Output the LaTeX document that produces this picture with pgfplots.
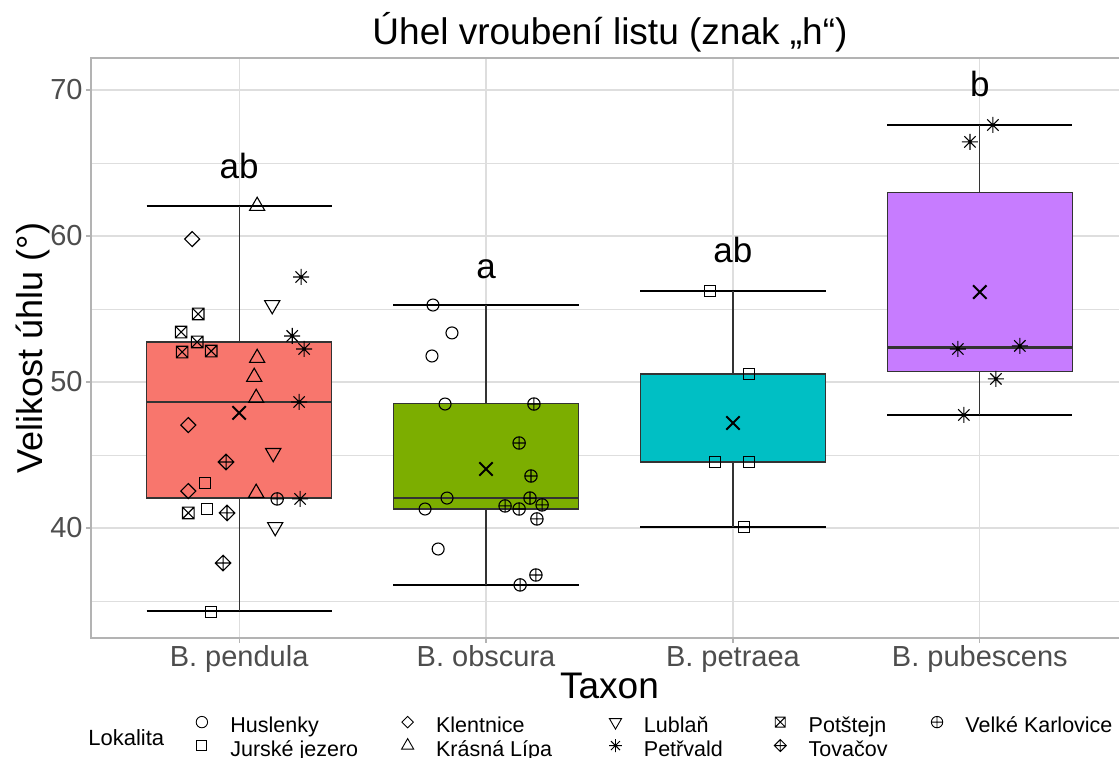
\documentclass[border=0pt]{standalone}
\usepackage{pgfplots}
\pgfplotsset{compat=1.18}
\usepackage{fontspec}
\setmainfont{Liberation Sans}
\definecolor{cpend}{HTML}{F8766D}
\definecolor{cobs}{HTML}{7CAE00}
\definecolor{cpet}{HTML}{00BFC4}
\definecolor{cpub}{HTML}{C77CFF}
\definecolor{gridc}{HTML}{DEDEDE}
\definecolor{borderc}{HTML}{B3B3B3}
\definecolor{ticklab}{HTML}{4D4D4D}
\definecolor{boxc}{HTML}{333333}
\pgfdeclareplotmark{rdiamond}{%
  \pgfpathmoveto{\pgfqpoint{0pt}{\pgfplotmarksize}}%
  \pgfpathlineto{\pgfqpoint{\pgfplotmarksize}{0pt}}%
  \pgfpathlineto{\pgfqpoint{0pt}{-\pgfplotmarksize}}%
  \pgfpathlineto{\pgfqpoint{-\pgfplotmarksize}{0pt}}%
  \pgfpathclose\pgfusepathqstroke}
\pgfdeclareplotmark{rdiamondplus}{%
  \pgfpathmoveto{\pgfqpoint{0pt}{\pgfplotmarksize}}%
  \pgfpathlineto{\pgfqpoint{\pgfplotmarksize}{0pt}}%
  \pgfpathlineto{\pgfqpoint{0pt}{-\pgfplotmarksize}}%
  \pgfpathlineto{\pgfqpoint{-\pgfplotmarksize}{0pt}}%
  \pgfpathclose
  \pgfpathmoveto{\pgfqpoint{0pt}{\pgfplotmarksize}}\pgfpathlineto{\pgfqpoint{0pt}{-\pgfplotmarksize}}%
  \pgfpathmoveto{\pgfqpoint{\pgfplotmarksize}{0pt}}\pgfpathlineto{\pgfqpoint{-\pgfplotmarksize}{0pt}}%
  \pgfusepathqstroke}
\pgfdeclareplotmark{squarex}{%
  \pgfpathrectangle{\pgfqpoint{-\pgfplotmarksize}{-\pgfplotmarksize}}{\pgfqpoint{2\pgfplotmarksize}{2\pgfplotmarksize}}%
  \pgfpathmoveto{\pgfqpoint{-\pgfplotmarksize}{-\pgfplotmarksize}}\pgfpathlineto{\pgfqpoint{\pgfplotmarksize}{\pgfplotmarksize}}%
  \pgfpathmoveto{\pgfqpoint{-\pgfplotmarksize}{\pgfplotmarksize}}\pgfpathlineto{\pgfqpoint{\pgfplotmarksize}{-\pgfplotmarksize}}%
  \pgfusepathqstroke}
\pgfdeclareplotmark{circleplus}{%
  \pgfpathcircle{\pgfpointorigin}{\pgfplotmarksize}%
  \pgfpathmoveto{\pgfqpoint{0pt}{\pgfplotmarksize}}\pgfpathlineto{\pgfqpoint{0pt}{-\pgfplotmarksize}}%
  \pgfpathmoveto{\pgfqpoint{\pgfplotmarksize}{0pt}}\pgfpathlineto{\pgfqpoint{-\pgfplotmarksize}{0pt}}%
  \pgfusepathqstroke}
\pgfdeclareplotmark{star8}{%
  \pgfpathmoveto{\pgfqpoint{0pt}{\pgfplotmarksize}}\pgfpathlineto{\pgfqpoint{0pt}{-\pgfplotmarksize}}%
  \pgfpathmoveto{\pgfqpoint{\pgfplotmarksize}{0pt}}\pgfpathlineto{\pgfqpoint{-\pgfplotmarksize}{0pt}}%
  \pgfpathmoveto{\pgfqpoint{0.707\pgfplotmarksize}{0.707\pgfplotmarksize}}\pgfpathlineto{\pgfqpoint{-0.707\pgfplotmarksize}{-0.707\pgfplotmarksize}}%
  \pgfpathmoveto{\pgfqpoint{0.707\pgfplotmarksize}{-0.707\pgfplotmarksize}}\pgfpathlineto{\pgfqpoint{-0.707\pgfplotmarksize}{0.707\pgfplotmarksize}}%
  \pgfusepathqstroke}
\pgfdeclareplotmark{bigx}{%
  \pgfpathmoveto{\pgfqpoint{-\pgfplotmarksize}{-\pgfplotmarksize}}\pgfpathlineto{\pgfqpoint{\pgfplotmarksize}{\pgfplotmarksize}}%
  \pgfpathmoveto{\pgfqpoint{-\pgfplotmarksize}{\pgfplotmarksize}}\pgfpathlineto{\pgfqpoint{\pgfplotmarksize}{-\pgfplotmarksize}}%
  \pgfusepathqstroke}
\begin{document}
\begin{tikzpicture}
\useasboundingbox (0,0) rectangle (559.5pt,379pt);
\begin{axis}[
  at={(45.5pt,60pt)}, anchor=south west,
  scale only axis, width=518.5pt, height=290pt,
  xmin=0.4, xmax=4.6, ymin=32.466, ymax=72.19,
  xtick={1,2,3,4},
  xticklabels={B. pendula, B. obscura, B. petraea, B. pubescens},
  ytick={40,50,60,70}, minor ytick={35,45,55,65},
  grid=both,
  major grid style={color=gridc, line width=0.55pt},
  minor grid style={color=gridc, line width=0.3pt},
  axis line style={color=borderc, line width=0.55pt},
  tick style={color=borderc, line width=0.55pt},
  tick align=outside, tick pos=left,
  major tick length=2.5pt, minor tick length=0pt,
  ticklabel style={font=\fontsize{14.5}{14.5}\selectfont, text=ticklab},
  yticklabel style={inner sep=0pt, xshift=-1.5pt},
  xticklabel style={anchor=base, inner sep=0pt, yshift=-12pt},
  /pgf/number format/assume math mode=true,
  clip=false,
  legend columns=5,
  legend cell align=left,
  legend image code/.code={\path (-4pt,0pt) (4pt,0pt); \draw[#1] plot coordinates {(0pt,3pt)};},
  legend style={draw=none, fill=none, inner sep=0pt,
    at={(axis description cs:0.0984,-0.1345)}, anchor=north west,
    font=\fontsize{10.75}{10.75}\selectfont,
    nodes={inner sep=0.5pt, text height=6.5pt, text depth=2pt},
    row sep=0.5pt,
    /tikz/every odd column/.append style={column sep=9.5pt},
    /tikz/column 2/.append style={column sep=20pt},
    /tikz/column 4/.append style={column sep=27pt},
    /tikz/column 6/.append style={column sep=24pt},
    /tikz/column 8/.append style={column sep=20pt}},
  ptsty/.style={only marks, black, line width=0.55pt, forget plot},
  cap/.style={forget plot, black, line width=0.6pt},
  whisk/.style={forget plot, boxc, line width=0.6pt},
  boxsty/.style={forget plot, draw=boxc, line width=0.6pt},
  med/.style={forget plot, boxc, line width=1.2pt},
]
% ---- B. pendula: lw 34.32, q1 42.05, med 48.63, q3 52.74, uw 62.05
\addplot[cap] coordinates {(0.625,34.32) (1.375,34.32)};
\addplot[cap] coordinates {(0.625,62.05) (1.375,62.05)};
\addplot[whisk] coordinates {(1,34.32) (1,62.05)};
\addplot[boxsty, fill=cpend] coordinates {(0.625,42.05) (1.375,42.05) (1.375,52.74) (0.625,52.74)} -- cycle;
\addplot[med] coordinates {(0.625,48.63) (1.375,48.63)};
% ---- B. obscura: lw 36.10, q1 41.30, med 42.05, q3 48.52, uw 55.27
\addplot[cap] coordinates {(1.625,36.10) (2.375,36.10)};
\addplot[cap] coordinates {(1.625,55.27) (2.375,55.27)};
\addplot[whisk] coordinates {(2,36.10) (2,55.27)};
\addplot[boxsty, fill=cobs] coordinates {(1.625,41.30) (2.375,41.30) (2.375,48.52) (1.625,48.52)} -- cycle;
\addplot[med] coordinates {(1.625,42.05) (2.375,42.05)};
% ---- B. petraea: lw 40.07, q1 44.52, med 44.52, q3 50.55, uw 56.23
\addplot[cap] coordinates {(2.625,40.07) (3.375,40.07)};
\addplot[cap] coordinates {(2.625,56.23) (3.375,56.23)};
\addplot[whisk] coordinates {(3,40.07) (3,56.23)};
\addplot[boxsty, fill=cpet] coordinates {(2.625,44.52) (3.375,44.52) (3.375,50.55) (2.625,50.55)} -- cycle;
\addplot[med] coordinates {(2.625,44.52) (3.375,44.52)};
% ---- B. pubescens: lw 47.74, q1 50.72, med 52.37, q3 62.95, uw 67.60
\addplot[cap] coordinates {(3.625,47.74) (4.375,47.74)};
\addplot[cap] coordinates {(3.625,67.60) (4.375,67.60)};
\addplot[whisk] coordinates {(4,47.74) (4,67.60)};
\addplot[boxsty, fill=cpub] coordinates {(3.625,50.72) (4.375,50.72) (4.375,62.95) (3.625,62.95)} -- cycle;
\addplot[med] coordinates {(3.625,52.37) (4.375,52.37)};
% Huslenky
\addplot[ptsty, mark=o, mark size=3pt] coordinates {
 (1.785,55.27) (1.862,53.36) (1.781,51.78) (1.834,48.49) (1.842,42.05) (1.753,41.30) (1.806,38.56)};
% Jurske jezero
\addplot[ptsty, mark=square, mark size=2.75pt] coordinates {
 (0.862,43.08) (0.870,41.30) (0.887,34.25)
 (2.907,56.23) (3.065,50.55) (2.927,44.52) (3.065,44.52) (3.045,40.07)};
% Klentnice
\addplot[ptsty, mark=rdiamond, mark size=3.75pt] coordinates {
 (0.810,59.79) (0.794,47.05) (0.794,42.53)};
% Krasna Lipa
\addplot[ptsty, mark=triangle, mark size=4.4pt] coordinates {
 (1.073,62.05) (1.073,51.64) (1.061,50.34) (1.069,48.90) (1.069,42.40)};
% Lublan
\addplot[ptsty, mark=triangle, mark size=4.4pt, mark options={rotate=180}] coordinates {
 (1.134,55.27) (1.138,45.14) (1.146,40.07)};
% Petrvald
\addplot[ptsty, mark=star8, mark size=4pt] coordinates {
 (1.251,57.19) (1.215,53.15) (1.263,52.26) (1.243,48.63) (1.247,41.99)
 (4.053,67.60) (3.960,66.44) (3.911,52.26) (4.162,52.47) (4.065,50.21) (3.935,47.74)};
% Potstejn
\addplot[ptsty, mark=squarex, mark size=2.9pt] coordinates {
 (0.834,54.66) (0.765,53.42) (0.830,52.74) (0.769,52.05) (0.887,52.12) (0.794,41.03)};
% Tovacov
\addplot[ptsty, mark=rdiamondplus, mark size=3.9pt] coordinates {
 (0.947,44.52) (0.951,41.03) (0.935,37.60)};
% Velke Karlovice
\addplot[ptsty, mark=circleplus, mark size=3.1pt] coordinates {
 (1.154,41.99)
 (2.194,48.49) (2.134,45.82) (2.182,43.56) (2.178,42.05) (2.077,41.51) (2.134,41.30) (2.227,41.58) (2.206,40.62) (2.202,36.78) (2.138,36.10)};
% means
\addplot[only marks, forget plot, black, mark=bigx, mark size=3.35pt, line width=1pt] coordinates {
 (1,47.88) (2,44.04) (3,47.19) (4,56.16)};
% letters
\node[anchor=base, font=\fontsize{17.5}{17.5}\selectfont] at (axis cs:1,63.97) {ab};
\node[anchor=base, font=\fontsize{17.5}{17.5}\selectfont] at (axis cs:2,57.12) {a};
\node[anchor=base, font=\fontsize{17.5}{17.5}\selectfont] at (axis cs:3,58.15) {ab};
\node[anchor=base, font=\fontsize{17.5}{17.5}\selectfont] at (axis cs:4,69.52) {b};
% legend
\addlegendimage{only marks, black, line width=0.45pt, mark=o, mark size=2.85pt}
\addlegendentry{Huslenky}
\addlegendimage{only marks, black, line width=0.45pt, mark=rdiamond, mark size=2.85pt}
\addlegendentry{Klentnice}
\addlegendimage{only marks, black, line width=0.45pt, mark=triangle, mark size=3.5pt, mark options={rotate=180}}
\addlegendentry{Lublaň}
\addlegendimage{only marks, black, line width=0.45pt, mark=squarex, mark size=2.5pt}
\addlegendentry{Potštejn}
\addlegendimage{only marks, black, line width=0.45pt, mark=circleplus, mark size=2.85pt}
\addlegendentry{Velké Karlovice}
\addlegendimage{only marks, black, line width=0.45pt, mark=square, mark size=2.5pt}
\addlegendentry{Jurské jezero}
\addlegendimage{only marks, black, line width=0.45pt, mark=triangle, mark size=3.5pt}
\addlegendentry{Krásná Lípa}
\addlegendimage{only marks, black, line width=0.45pt, mark=star8, mark size=3.2pt}
\addlegendentry{Petřvald}
\addlegendimage{only marks, black, line width=0.45pt, mark=rdiamondplus, mark size=3pt}
\addlegendentry{Tovačov}
\end{axis}
\node[anchor=base, font=\fontsize{18.5}{18.5}\selectfont] at (305pt,356.5pt) {Úhel vroubení listu (znak „h“)};
\node[rotate=90, anchor=base, font=\fontsize{18}{18}\selectfont] at (21pt,205pt) {Velikost úhlu (°)};
\node[anchor=base, font=\fontsize{18.5}{18.5}\selectfont] at (304.75pt,29.5pt) {Taxon};
\node[anchor=base west, font=\fontsize{11}{11}\selectfont, inner sep=0pt] at (44pt,6pt) {Lokalita};
\end{tikzpicture}
\end{document}
